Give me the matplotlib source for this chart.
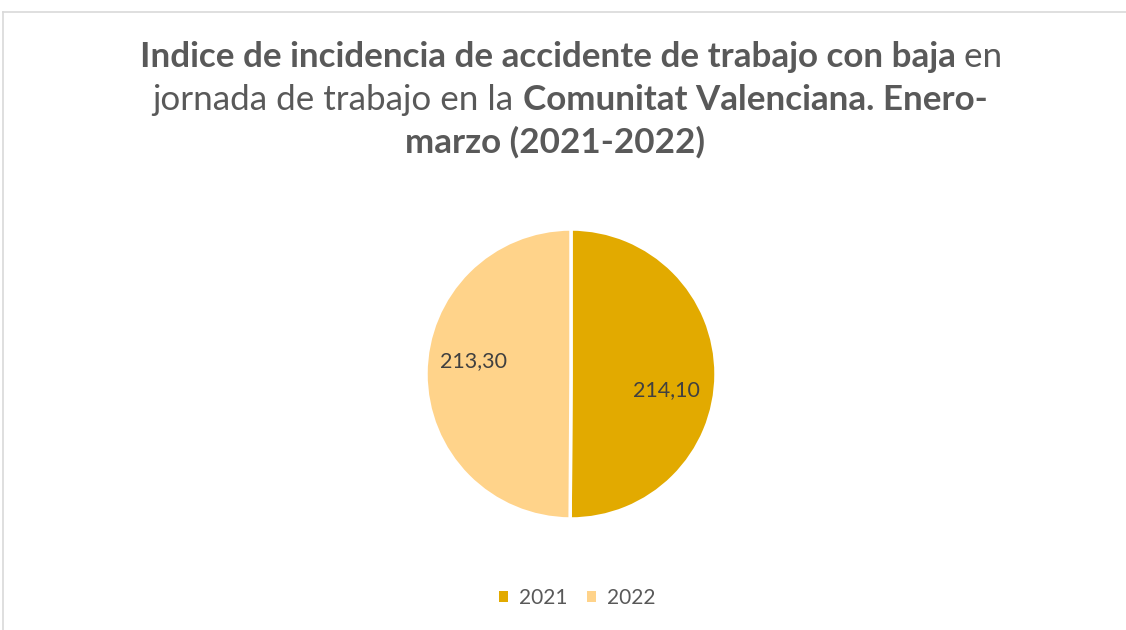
import matplotlib
matplotlib.use("Agg")
import matplotlib.pyplot as plt
from matplotlib.lines import Line2D
from matplotlib.patches import Patch

years = ["2021", "2022"]
values = [214.10, 213.30]
colors = ["#E2AA00", "#FFD38A"]

title_lines = [
    [("Indice de incidencia de accidente de trabajo con baja", "bold"), (" en", "normal")],
    [("jornada de trabajo en la ", "normal"), ("Comunitat Valenciana. Enero-", "bold")],
    [("marzo (2021-2022)", "bold")],
]

plt.rcParams["font.family"] = ["Lato", "DejaVu Sans"]

W, H = 1126, 630
fig = plt.figure(figsize=(W / 100, H / 100), dpi=100)

# chart frame (only top and left edges visible in the crop)
fig.add_artist(Line2D([3 / W, 3 / W], [0, 1 - 12 / H], color="#D9D9D9", lw=1.2))
fig.add_artist(Line2D([3 / W, 1], [1 - 12 / H, 1 - 12 / H], color="#D9D9D9", lw=1.2))

# pie
cx, cy, r = 571, 374, 145
ax = fig.add_axes([(cx - r) / W, (H - cy - r) / H, 2 * r / W, 2 * r / H])
wedges, _, autotexts = ax.pie(
    values, colors=colors, startangle=90, counterclock=False,
    autopct=lambda p: f"{p * sum(values) / 100:.2f}".replace(".", ","),
    pctdistance=0.69,
    wedgeprops=dict(edgecolor="white", linewidth=2.5),
    textprops=dict(fontsize=15.5, color="#404040"),
)
ax.set_xlim(-1, 1)
ax.set_ylim(-1, 1)
x0, y0 = autotexts[0].get_position()
autotexts[0].set_position((x0 - 0.03, y0 - 0.11))
x1, y1 = autotexts[1].get_position()
autotexts[1].set_position((x1 + 0.02, y1 + 0.085))

# title with mixed weights, centred line by line
renderer = fig.canvas.get_renderer()
baselines = [67, 110, 153]
centers = [571, 570, 555]
for parts, yb, xc in zip(title_lines, baselines, centers):
    texts = []
    for s, w in parts:
        t = fig.text(0, 1 - yb / H, s, fontsize=25.2, fontweight=w, color="#595959",
                     va="baseline", ha="left")
        texts.append(t)
    widths = [t.get_window_extent(renderer).width for t in texts]
    x = xc - sum(widths) / 2
    for t, wd in zip(texts, widths):
        t.set_x(x / W)
        x += wd

handles = [Patch(facecolor=c, edgecolor="none") for c in colors]
fig.legend(handles, years, loc="center", bbox_to_anchor=(577 / W, 1 - 598 / H), ncol=2,
           frameon=False, fontsize=15, labelcolor="#595959", handlelength=0.45,
           handleheight=0.45, handletextpad=0.5, columnspacing=0.95)

fig.savefig("out.png", dpi=100, facecolor="white")
